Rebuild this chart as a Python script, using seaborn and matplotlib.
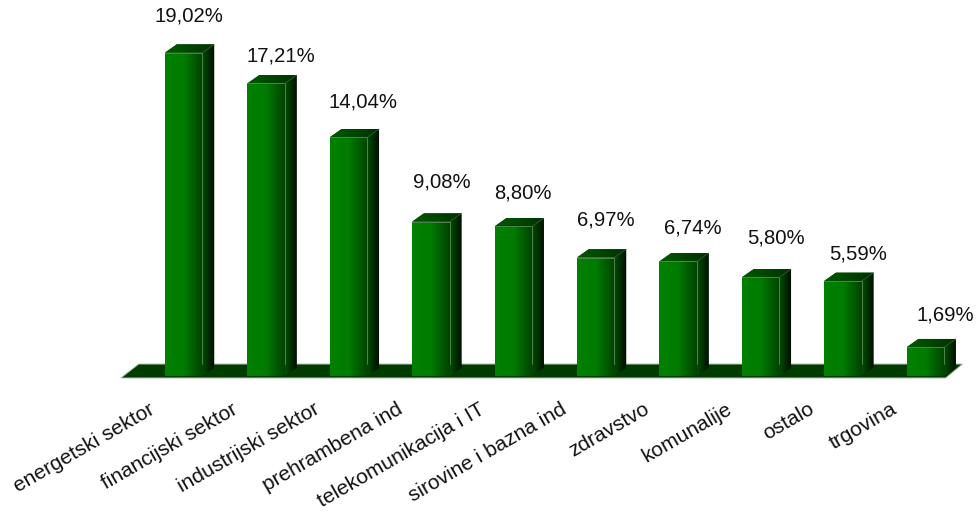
import numpy as np
import pandas as pd
import seaborn as sns
import matplotlib.pyplot as plt
from matplotlib.colors import LinearSegmentedColormap
from matplotlib.patches import Polygon
from matplotlib.transforms import ScaledTranslation

sectors = ['energetski sektor', 'financijski sektor', 'industrijski sektor',
           'prehrambena ind', 'telekomunikacija i IT', 'sirovine i bazna ind',
           'zdravstvo', 'komunalije', 'ostalo', 'trgovina']
shares = [19.02, 17.21, 14.04, 9.08, 8.80, 6.97, 6.74, 5.80, 5.59, 1.69]
labels = ['19,02%', '17,21%', '14,04%', '9,08%', '8,80%',
          '6,97%', '6,74%', '5,80%', '5,59%', '1,69%']

# small hand nudges for the value labels, in pixels
label_dx = [5, 15, 15, 11, 10, 10, 15, 15, 15, 20]
label_dy = [28, 19, 27, 31, 25, 29, 25, 31, 19, 24]

sns.set_style('white')
plt.rcParams['font.family'] = ['Liberation Sans', 'DejaVu Sans']

df = pd.DataFrame({'sector': sectors, 'share': shares})

fig = plt.figure(figsize=(9.77, 5.12), dpi=100)
ax = fig.add_axes([0, 0, 1, 1])
sns.barplot(data=df, x='sector', y='share', color='#008000', saturation=1,
            width=0.455, ax=ax, zorder=3)

# 82.4 px between bars, 17 px per percent
px_x = 82.4
px_y = 17.0
xlim = (-183.7 / px_x, (977 - 183.7) / px_x)
ylim = (-136 / px_y, 376 / px_y)
depth_x = 11.8 / px_x
depth_y = 8.3 / px_y

front_cmap = LinearSegmentedColormap.from_list('front', ['#008000', '#007c00', '#004200'])
side_cmap = LinearSegmentedColormap.from_list('side', ['#004f00', '#000f00'])
top_cmap = LinearSegmentedColormap.from_list('top', ['#005a00', '#003000'])
grad = np.linspace(0, 1, 64).reshape(1, -1)

# floor
floor = Polygon([(-63 / px_x, -2 / px_y), (-45 / px_x, 12 / px_y),
                 (779 / px_x, 12 / px_y), (762 / px_x, -2 / px_y)],
                facecolor='#003c00', edgecolor='#b8c4b8', linewidth=0.7, zorder=1)
ax.add_patch(floor)

for bar, lab, dx, dy in zip(list(ax.patches)[:len(shares)], labels, label_dx, label_dy):
    x0 = bar.get_x()
    x1 = x0 + bar.get_width()
    h = bar.get_height()
    bar.set_linewidth(0)

    # front gradient
    im = ax.imshow(grad, cmap=front_cmap, extent=(x0, x1, 0, h), aspect='auto', zorder=4)
    im.set_clip_path(bar)

    # side face
    side = Polygon([(x1, 0), (x1 + depth_x, depth_y), (x1 + depth_x, h + depth_y), (x1, h)],
                   facecolor='#002500', edgecolor='none', zorder=2)
    ax.add_patch(side)
    im2 = ax.imshow(grad, cmap=side_cmap, extent=(x1, x1 + depth_x, 0, h + depth_y),
                    aspect='auto', zorder=2.5)
    im2.set_clip_path(side)

    # top face
    top = Polygon([(x0, h), (x0 + depth_x, h + depth_y), (x1 + depth_x, h + depth_y), (x1, h)],
                  facecolor='#004400', edgecolor='none', zorder=5)
    ax.add_patch(top)
    im3 = ax.imshow(grad, cmap=top_cmap, extent=(x0, x1 + depth_x, h, h + depth_y),
                    aspect='auto', zorder=5.5)
    im3.set_clip_path(top)

    # pale edges around the front corner
    ax.plot([x0, x1, x1], [h, h, depth_y * 1.4], color='#4f834f', linewidth=0.7, zorder=6)
    ax.plot([x1, x1 + depth_x], [h, h + depth_y], color='#336333', linewidth=0.5, zorder=6)

    ax.annotate(lab, xy=((x0 + x1) / 2, h + depth_y), xytext=(dx * 0.72, dy * 0.72),
                textcoords='offset points', ha='center', va='center',
                fontsize=14.6, color='#111111')

ax.set_xlim(*xlim)
ax.set_ylim(*ylim)
ax.set_xlabel('')
ax.set_ylabel('')
ax.set_yticks([])
ax.tick_params(axis='x', length=0, pad=17)
for s in ax.spines.values():
    s.set_visible(False)
ax.spines['bottom'].set_position(('data', 0))
ax.patch.set_alpha(0)

# rotated labels sit a bit left of the bar centre
shift = ScaledTranslation(-35 / 100, 0, fig.dpi_scale_trans)
for t in ax.get_xticklabels():
    t.set_rotation(30)
    t.set_ha('right')
    t.set_rotation_mode('anchor')
    t.set_fontsize(15)
    t.set_color('#111111')
    t.set_transform(t.get_transform() + shift)

fig.savefig('out.png', dpi=100)
